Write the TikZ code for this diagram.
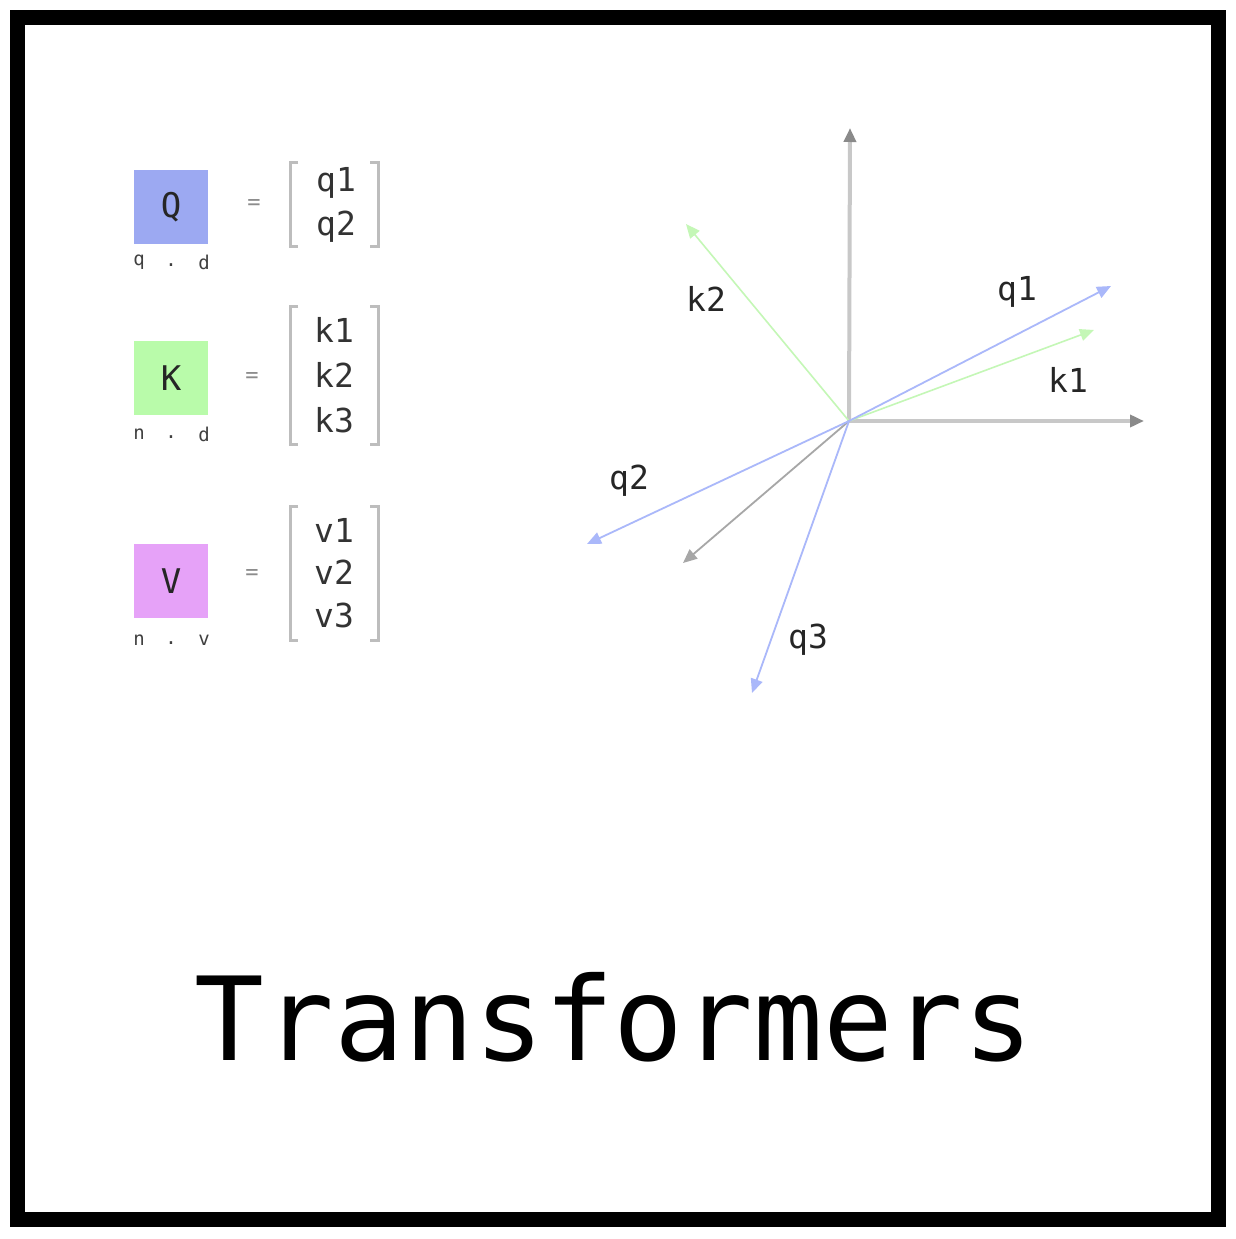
\documentclass[tikz,border=0pt]{standalone}
\usepackage{fontspec}
\setmonofont{DejaVu Sans Mono}
\usetikzlibrary{arrows.meta}
\definecolor{qblue}{HTML}{9CA9F2}
\definecolor{kgreen}{HTML}{B9FBAA}
\definecolor{vpink}{HTML}{E6A2F8}
\definecolor{lblue}{HTML}{AAB8FA}
\definecolor{lgreen}{HTML}{C4F7B6}
\definecolor{axisgray}{HTML}{C8C8C8}
\definecolor{tipgray}{HTML}{8A8A8A}
\definecolor{brgray}{HTML}{BDBDBD}
\tikzset{
  x=1pt, y=-1pt,
  matbox/.style={minimum width=74pt, minimum height=74pt, inner sep=0pt, draw=none},
  boxlabel/.style={font=\ttfamily\fontsize{34}{34}\selectfont, text=black!85},
  dimlabel/.style={font=\ttfamily\fontsize{19}{19}\selectfont, text=black!75, inner sep=0pt},
  eqlabel/.style={font=\ttfamily\fontsize{22}{22}\selectfont, text=black!45, inner sep=0pt},
  entry/.style={font=\ttfamily\fontsize{33}{33}\selectfont, text=black!80, inner sep=0pt},
  bracket/.style={draw=brgray, line width=3pt},
  axisline/.style={draw=axisgray, line width=4pt, -{Triangle[length=14pt,width=12pt,color=tipgray]}},
  vecq/.style={draw=lblue, line width=1.8pt, -{Triangle[length=14pt,width=12pt]}},
  veck/.style={draw=lgreen, line width=1.6pt, -{Triangle[length=14pt,width=12pt]}},
  vecg/.style={draw=tipgray!75, line width=1.8pt, -{Triangle[length=14pt,width=12pt]}},
  veclabel/.style={font=\ttfamily\fontsize{33}{33}\selectfont, text=black!85, inner sep=0pt},
}
\begin{document}
\begin{tikzpicture}
\useasboundingbox (0,0) rectangle (1235,1239);
\fill[white] (0,0) rectangle (1235,1239);
\draw[line width=15pt] (17.5,17.5) rectangle (1218.5,1219.5);

% Q
\node[matbox, fill=qblue] (Q) at (171,207) {};
\node[boxlabel] (Ql) at (Q.center) {Q};
\node[dimlabel] (Qd1) at (139,262) {q};
\node[dimlabel] (Qd2) at (171,265) {.};
\node[dimlabel] (Qd3) at (204,262) {d};
\node[eqlabel] (Qeq) at (254,205) {=};
\draw[bracket] (298,162) -- (290,162) -- (290,246) -- (298,246);
\draw[bracket] (370,162) -- (378,162) -- (378,246) -- (370,246);
\node[entry] (q1e) at (336,183) {q1};
\node[entry] (q2e) at (336,227) {q2};

% K
\node[matbox, fill=kgreen] (K) at (171,378) {};
\node[boxlabel] (Kl) at (K.center) {K};
\node[dimlabel] (Kd1) at (139,434) {n};
\node[dimlabel] (Kd2) at (171,437) {.};
\node[dimlabel] (Kd3) at (204,434) {d};
\node[eqlabel] (Keq) at (252,378) {=};
\draw[bracket] (298,306) -- (290,306) -- (290,444) -- (298,444);
\draw[bracket] (370,306) -- (378,306) -- (378,444) -- (370,444);
\node[entry] (k1e) at (334,330) {k1};
\node[entry] (k2e) at (334,375) {k2};
\node[entry] (k3e) at (334,420) {k3};

% V
\node[matbox, fill=vpink] (V) at (171,581) {};
\node[boxlabel] (Vl) at (V.center) {V};
\node[dimlabel] (Vd1) at (139,640) {n};
\node[dimlabel] (Vd2) at (171,643) {.};
\node[dimlabel] (Vd3) at (204,640) {v};
\node[eqlabel] (Veq) at (252,574) {=};
\draw[bracket] (298,506) -- (290,506) -- (290,640) -- (298,640);
\draw[bracket] (370,506) -- (378,506) -- (378,640) -- (370,640);
\node[entry] (v1e) at (334,530) {v1};
\node[entry] (v2e) at (334,572) {v2};
\node[entry] (v3e) at (334,615) {v3};

% vector diagram
\coordinate (O) at (849,421);
\coordinate (yax) at (850,128);
\coordinate (xax) at (1144,421);
\coordinate (tq1) at (1111,286);
\coordinate (tk1) at (1094,330);
\coordinate (tk2) at (686,224);
\coordinate (tq2) at (587,544);
\coordinate (tg) at (683,563);
\coordinate (tq3) at (752,693);
\draw[axisline] (O) -- (yax);
\draw[axisline] (O) -- (xax);
\draw[veck] (O) -- (tk2);
\draw[veck] (O) -- (tk1);
\draw[vecq] (O) -- (tq1);
\draw[vecg] (O) -- (tg);
\draw[vecq] (O) -- (tq2);
\draw[vecq] (O) -- (tq3);
\node[veclabel] (lq1) at (1017,292) {q1};
\node[veclabel] (lk1) at (1068,380) {k1};
\node[veclabel] (lk2) at (706,299) {k2};
\node[veclabel] (lq2) at (629,481) {q2};
\node[veclabel] (lq3) at (808,640) {q3};

\node[font=\ttfamily\fontsize{116}{116}\selectfont, anchor=base, inner sep=0pt] (title) at (614,1060) {Transformers};
\end{tikzpicture}
\end{document}
